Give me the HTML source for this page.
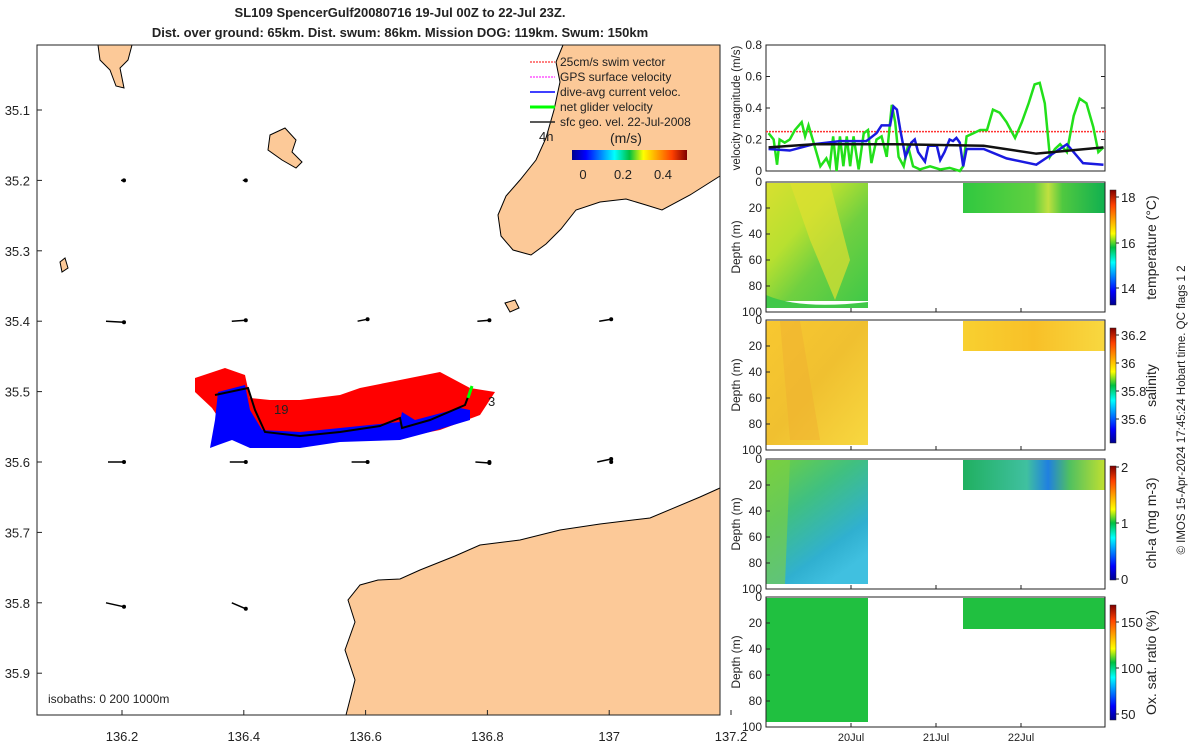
<!DOCTYPE html>
<html><head><meta charset="utf-8"><style>
body{margin:0;background:#fff;font-family:"Liberation Sans",sans-serif}
svg{display:block}
text{font-family:"Liberation Sans",sans-serif;fill:#222}
</style></head><body>
<svg id="root" width="1200" height="750" xmlns="http://www.w3.org/2000/svg">
<defs>
<linearGradient id="jet" x1="0" x2="1" y1="0" y2="0">
<stop offset="0" stop-color="#00008f"/><stop offset="0.12" stop-color="#0000ff"/><stop offset="0.37" stop-color="#00ffff"/><stop offset="0.5" stop-color="#00c040"/><stop offset="0.62" stop-color="#ffff00"/><stop offset="0.87" stop-color="#ff4000"/><stop offset="1" stop-color="#800000"/></linearGradient>
<linearGradient id="jetv" x1="0" x2="0" y1="1" y2="0">
<stop offset="0" stop-color="#00008f"/><stop offset="0.12" stop-color="#0000ff"/><stop offset="0.37" stop-color="#00ffff"/><stop offset="0.5" stop-color="#00c040"/><stop offset="0.62" stop-color="#ffff00"/><stop offset="0.87" stop-color="#ff4000"/><stop offset="1" stop-color="#800000"/></linearGradient>
<linearGradient id="tA" x1="0" y1="0" x2="1" y2="1"><stop offset="0" stop-color="#d8e030"/><stop offset="0.35" stop-color="#b8e030"/><stop offset="0.6" stop-color="#70d040"/><stop offset="1" stop-color="#40c848"/></linearGradient>
<linearGradient id="tB" x1="0" x2="1"><stop offset="0" stop-color="#30c840"/><stop offset="0.5" stop-color="#60d040"/><stop offset="0.6" stop-color="#c0e040"/><stop offset="0.7" stop-color="#50c840"/><stop offset="1" stop-color="#10b050"/></linearGradient>
<linearGradient id="sA" x1="0" y1="0" x2="1" y2="1"><stop offset="0" stop-color="#f8c830"/><stop offset="0.5" stop-color="#f0c030"/><stop offset="1" stop-color="#f8d840"/></linearGradient>
<linearGradient id="sB" x1="0" x2="1"><stop offset="0" stop-color="#f8d030"/><stop offset="0.5" stop-color="#f8c028"/><stop offset="1" stop-color="#f8d840"/></linearGradient>
<linearGradient id="cA" x1="0" y1="0" x2="0.6" y2="1"><stop offset="0" stop-color="#70d040"/><stop offset="0.4" stop-color="#40c080"/><stop offset="0.8" stop-color="#30b0d0"/><stop offset="1" stop-color="#40c0e0"/></linearGradient>
<linearGradient id="cB" x1="0" x2="1"><stop offset="0" stop-color="#20b060"/><stop offset="0.45" stop-color="#40c0a0"/><stop offset="0.6" stop-color="#2080e0"/><stop offset="0.75" stop-color="#50c060"/><stop offset="1" stop-color="#c0e030"/></linearGradient>
</defs>

<!-- MAP -->
<g>
<rect x="37" y="45" width="683" height="670" fill="#fff"/>
<polygon fill="#fcc998" stroke="#000" stroke-width="1" points="563,45 556,62 560,82 554,110 546,138 536,160 520,180 506,196 498,215 501,236 513,250 531,255 546,244 561,229 576,210 600,202 626,199 646,205 662,210 690,195 720,176 720,45"/>
<polygon fill="#fcc998" stroke="#000" stroke-width="1" points="720,488 700,497 650,518 600,524 560,530 520,540 480,545 455,556 420,570 400,579 378,580 360,585 348,600 355,622 345,650 355,680 346,715 720,715"/>
<polygon fill="#fcc998" stroke="#000" points="98,45 132,45 128,60 120,68 124,88 116,86 110,70 100,60"/>
<polygon fill="#fcc998" stroke="#000" points="270,135 285,128 296,140 292,152 302,162 296,168 282,160 268,150"/>
<polygon fill="#fcc998" stroke="#000" points="505,303 515,300 519,308 510,312"/>
<polygon fill="#fcc998" stroke="#000" points="60,262 65,258 68,268 62,272"/>
<rect x="37" y="45" width="683" height="670" fill="none" stroke="#222"/>
<g id="track">
<polygon fill="#f00" points="195,378 225,368 245,375 250,398 270,400 300,400 340,395 360,388 400,380 440,372 470,388 495,392 480,415 440,430 400,438 340,438 300,442 262,440 240,428 220,420 212,408 195,392"/>
<polygon fill="#00f" points="218,392 245,385 250,410 262,430 300,432 340,428 400,422 402,412 415,420 460,408 470,410 470,420 430,432 400,440 340,442 300,448 250,448 232,440 218,445 210,448 215,420"/>
<polyline fill="none" stroke="#000" stroke-width="2" points="215,395 248,388 255,410 265,432 300,436 340,432 380,426 400,418 402,428 430,420 465,405 468,397"/>
<polyline fill="none" stroke="#0f0" stroke-width="3" points="468,398 472,386"/>
<text x="274" y="414" font-size="13">19</text>
<text x="488" y="406" font-size="13">3</text>
</g>
<g id="arrows"></g>
<g font-size="12">
<line x1="530" y1="62" x2="555" y2="62" stroke="#f00" stroke-dasharray="2,1"/><text x="560" y="66" font-size="12">25cm/s swim vector</text>
<line x1="530" y1="77" x2="555" y2="77" stroke="#f0f" stroke-dasharray="2,1"/><text x="560" y="81" font-size="12">GPS surface velocity</text>
<line x1="530" y1="92" x2="555" y2="92" stroke="#00f" stroke-width="1.5"/><text x="560" y="96" font-size="12">dive-avg current veloc.</text>
<line x1="530" y1="107" x2="555" y2="107" stroke="#0f0" stroke-width="3"/><text x="560" y="111" font-size="12">net glider velocity</text>
<line x1="530" y1="122" x2="555" y2="122" stroke="#222" stroke-width="1.5"/><text x="560" y="126" font-size="12">sfc geo. vel. 22-Jul-2008</text>
<text x="539" y="141" font-size="13">4h</text>
<text x="610" y="143" font-size="14">(m/s)</text>
<rect x="572" y="150" width="115" height="10" fill="url(#jet)"/>
<text x="583" y="179" font-size="13" text-anchor="middle">0</text><text x="623" y="179" font-size="13" text-anchor="middle">0.2</text><text x="663" y="179" font-size="13" text-anchor="middle">0.4</text>
</g>
<text x="48" y="703" font-size="12">isobaths: 0    200  1000m</text>
<g id="mapticks" font-size="13"></g>
</g>
<text x="400" y="17" font-size="13" font-weight="bold" text-anchor="middle">SL109 SpencerGulf20080716 19-Jul 00Z to 22-Jul 23Z.</text>
<text x="400" y="37" font-size="13" font-weight="bold" text-anchor="middle">Dist. over ground: 65km. Dist. swum: 86km. Mission DOG: 119km. Swum: 150km</text>

<!-- velocity panel -->
<g id="vel">
<rect x="766" y="45" width="339" height="126" fill="#fff" stroke="#222"/>
<text transform="translate(740,108) rotate(-90)" font-size="11.5" text-anchor="middle">velocity magnitude (m/s)</text>
</g>

<g id="sections">
<rect x="766" y="183" width="102" height="118" fill="url(#tA)"/>
<path d="M790 183 L830 183 L850 260 L835 300 L810 240 Z" fill="#e0e030" opacity="0.7"/>
<path d="M766 295 Q800 310 868 302 L868 308 L766 308Z" fill="#40c848"/>
<rect x="963" y="183" width="142" height="30" fill="url(#tB)"/>
<rect x="766" y="321" width="102" height="124" fill="url(#sA)"/>
<path d="M780 321 L800 321 L820 440 L790 440 Z" fill="#f0b030" opacity="0.5"/>
<rect x="963" y="321" width="142" height="30" fill="url(#sB)"/>
<rect x="766" y="460" width="102" height="124" fill="url(#cA)"/>
<path d="M766 460 L790 460 L785 584 L766 584 Z" fill="#80d040" opacity="0.6"/>
<rect x="963" y="460" width="142" height="30" fill="url(#cB)"/>
<rect x="766" y="598" width="102" height="124" fill="#20c040"/>
<rect x="963" y="598" width="142" height="31" fill="#20c040"/>
</g>
<g id="axes2"></g>
<text transform="translate(1185,410) rotate(-90)" font-size="11.5" text-anchor="middle">© IMOS 15-Apr-2024 17:45:24 Hobart time. QC flags 1  2</text>
</svg>
<script>
// velocity data (days since 19-Jul 00Z, m/s)
const greenT=[0.03,0.09,0.13,0.16,0.22,0.28,0.34,0.42,0.46,0.50,0.56,0.64,0.71,0.75,0.79,0.83,0.87,0.91,0.95,0.99,1.03,1.09,1.15,1.20,1.24,1.30,1.36,1.42,1.48,1.52,1.56,1.62,1.67,1.73,1.81,1.93,2.05,2.16,2.28,2.32,2.36,2.44,2.52,2.60,2.67,2.75,2.83,2.93,3.01,3.09,3.16,3.22,3.28,3.34,3.40,3.46,3.54,3.62,3.69,3.77,3.85,3.91,3.97];
const greenV=[0.24,0.20,0.04,0.20,0.18,0.20,0.26,0.31,0.22,0.29,0.18,0.03,0.08,0.03,0.22,0.0,0.22,0.03,0.22,0.03,0.22,0.01,0.24,0.26,0.05,0.20,0.22,0.09,0.42,0.31,0.09,0.03,0.16,0.03,0.01,0.03,0.01,0.02,0.0,0.03,0.22,0.24,0.26,0.26,0.39,0.37,0.31,0.21,0.31,0.43,0.55,0.56,0.43,0.09,0.14,0.17,0.12,0.35,0.46,0.43,0.28,0.12,0.15];
const blueT=[0.03,0.28,0.56,0.87,1.18,1.30,1.36,1.46,1.50,1.54,1.58,1.64,1.71,1.75,1.79,1.87,1.91,2.01,2.05,2.10,2.16,2.20,2.24,2.28,2.32,2.36,2.56,2.83,3.18,3.54,3.73,3.97];
const blueV=[0.14,0.13,0.17,0.19,0.19,0.24,0.29,0.29,0.41,0.39,0.26,0.09,0.18,0.20,0.12,0.06,0.16,0.16,0.07,0.12,0.20,0.19,0.21,0.18,0.03,0.14,0.14,0.08,0.04,0.17,0.05,0.04];
const blackT=[0.03,0.56,1.54,2.56,3.18,3.97];
const blackV=[0.15,0.17,0.17,0.16,0.11,0.15];
const swimV=0.25;
const velTicks=[0,0.2,0.4,0.6,0.8];
const dayTicks=[1,2,3];
const dayLabels=["20Jul","21Jul","22Jul"];
const lonTicks=[136.2,136.4,136.6,136.8,137,137.2];
const latTicks=[35.1,35.2,35.3,35.4,35.5,35.6,35.7,35.8,35.9];

const NS="http://www.w3.org/2000/svg";
function mk(tag,attrs,parent){const e=document.createElementNS(NS,tag);for(const k in attrs)e.setAttribute(k,attrs[k]);parent.appendChild(e);return e;}
const xT=d=>766+d*85, yV=v=>171-v*157.5;
const vel=document.getElementById('vel');
function line(T,V,color,w,name,dash){
  const p=mk('polyline',{points:T.map((t,i)=>xT(t)+','+yV(V[i])).join(' '),fill:'none',stroke:color,'stroke-width':w},vel);
  if(dash)p.setAttribute('stroke-dasharray',dash);
  
  
}
line([0,4],[swimV,swimV],'#f33',1.5,'swim-vector-line','2,1');
line(greenT,greenV,'#22e01a',2.5,'net-glider-velocity-line');
line(blueT,blueV,'#1a1ae0',2.5,'dive-avg-current-line');
line(blackT,blackV,'#111',2.5,'sfc-geo-velocity-line');
velTicks.forEach(v=>{
  const t=mk('text',{x:762,y:yV(v)+4,'font-size':12,'text-anchor':'end'},vel);t.textContent=v;
  
  
  mk('line',{x1:766,x2:770,y1:yV(v),y2:yV(v),stroke:'#222'},vel);
  mk('line',{x1:1101,x2:1105,y1:yV(v),y2:yV(v),stroke:'#222'},vel);
});

const ax=document.getElementById('axes2');
const panels=[
 {top:182,name:'temperature',label:'temperature (°C)',cb:[190,305],ticks:[[18,197],[16,243],[14,288]]},
 {top:320,name:'salinity',label:'salinity',cb:[328,443],ticks:[['36.2',335],['36',363],['35.8',391],['35.6',419]]},
 {top:459,name:'chl',label:'chl-a (mg m-3)',cb:[466,580],ticks:[[2,467],[1,523],[0,579]]},
 {top:597,name:'oxygen',label:'Ox. sat. ratio (%)',cb:[605,720],ticks:[[150,622],[100,668],[50,714]]}
];
panels.forEach((p,i)=>{
  const r=mk('rect',{x:766,y:p.top,width:339,height:130,fill:'none',stroke:'#222'},ax);
  
  
  [0,20,40,60,80,100].forEach(d=>{
    const y=p.top+d*1.3;
    const t=mk('text',{x:762,y:y+4,'font-size':12,'text-anchor':'end'},ax);t.textContent=d;
    mk('line',{x1:766,x2:770,y1:y,y2:y,stroke:'#222'},ax);
  });
  const yl=mk('text',{transform:`translate(740,${p.top+65}) rotate(-90)`,'font-size':12,'text-anchor':'middle'},ax);yl.textContent='Depth (m)';
  
  
  dayTicks.forEach(d=>mk('line',{x1:xT(d),x2:xT(d),y1:p.top+130,y2:p.top+126,stroke:'#222'},ax));
  const cb=mk('rect',{x:1110,y:p.cb[0],width:6,height:p.cb[1]-p.cb[0],fill:'url(#jetv)',stroke:'#222','stroke-width':0.5},ax);
  
  
  p.ticks.forEach(t=>{const e=mk('text',{x:1121,y:t[1]+5,'font-size':13},ax);e.textContent=t[0];mk('line',{x1:1116,x2:1119,y1:t[1],y2:t[1],stroke:'#222'},ax);});
  const cl=mk('text',{transform:`translate(1156,${(p.cb[0]+p.cb[1])/2}) rotate(-90)`,'font-size':14,'text-anchor':'middle'},ax);cl.textContent=p.label;
  
  
});
dayTicks.forEach((d,i)=>{const t=mk('text',{x:xT(d),y:741,'font-size':11,'text-anchor':'middle'},ax);t.textContent=dayLabels[i];
  
  });

const mt=document.getElementById('mapticks');
const xL=l=>122+(l-136.2)*609, yL=l=>110+(l-35.1)*704;
lonTicks.forEach(l=>{const t=mk('text',{x:xL(l),y:741,'font-size':13,'text-anchor':'middle'},mt);t.textContent=l;
  mk('line',{x1:xL(l),x2:xL(l),y1:715,y2:710,stroke:'#222'},mt);});
latTicks.forEach(l=>{const t=mk('text',{x:30,y:yL(l)+5,'font-size':13,'text-anchor':'end'},mt);t.textContent=l.toFixed(1);
  mk('line',{x1:37,x2:42,y1:yL(l),y2:yL(l),stroke:'#222'},mt);});

const arrLon=[136.2,136.4,136.6,136.8,137,136.2,136.4,136.6,136.8,137,136.2,136.4,136.8,137,136.2,136.4];
const arrLat=[35.4,35.4,35.4,35.4,35.4,35.6,35.6,35.6,35.6,35.6,35.2,35.2,35.6,35.6,35.8,35.8];
const arrDx=[18,14,10,12,12,16,16,16,14,14,3,3,0,0,18,14];
const arrDy=[1,-1,-2,-1,-2,0,0,0,1,-3,0,0,0,0,4,6];
const ag=document.getElementById('arrows');
arrLon.forEach((l,i)=>{
  const x=xL(l)-arrDx[i]+2,y=yL(arrLat[i]);
  const a=mk('line',{x1:x,y1:y,x2:x+arrDx[i],y2:y+arrDy[i],stroke:'#000','stroke-width':1.5},ag);
  
  
  mk('circle',{cx:x+arrDx[i],cy:y+arrDy[i],r:2,fill:'#000'},ag);
});
</script>
</body></html>
